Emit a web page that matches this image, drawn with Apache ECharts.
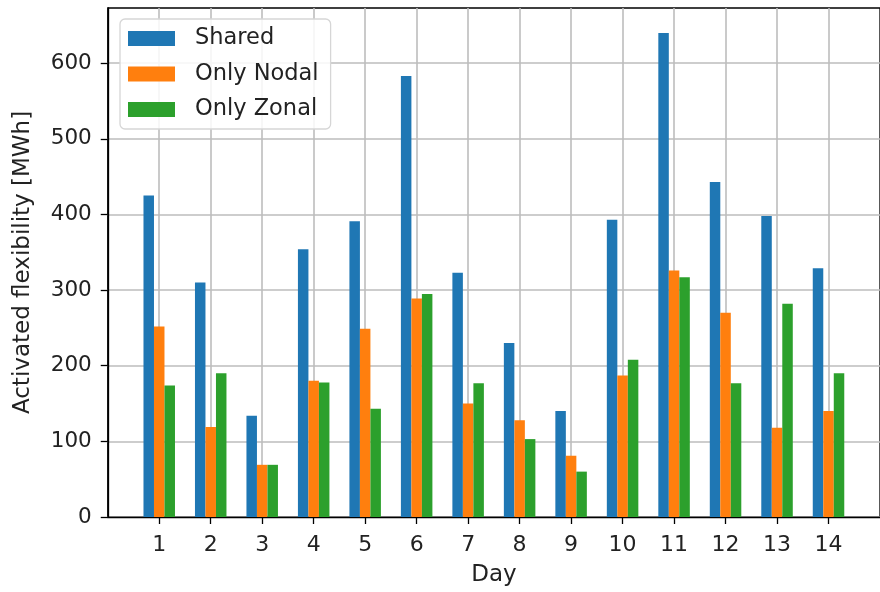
<!DOCTYPE html>
<html>
<head>
<meta charset="utf-8">
<script src="https://cdn.jsdelivr.net/npm/echarts@6/dist/echarts.min.js"></script>
<style>
html,body{margin:0;padding:0;background:#fff;}
#chart{width:880px;height:592px;}
</style>
</head>
<body>
<div id="chart"></div>
<script>
const days = [1, 2, 3, 4, 5, 6, 7, 8, 9, 10, 11, 12, 13, 14];
const shared = [425, 310, 134, 354, 391, 583, 323, 230, 140, 393, 640, 443, 398, 329];
const onlyNodal = [252, 119, 69, 180, 249, 289, 150, 128, 81, 187, 326, 270, 118, 140];
const onlyZonal = [174, 190, 69, 178, 143, 295, 177, 103, 60, 208, 317, 177, 282, 190];
const yTicks = [0, 100, 200, 300, 400, 500, 600];
const seriesNames = ['Shared', 'Only Nodal', 'Only Zonal'];
const colors = ['#1f77b4', '#ff7f0e', '#2ca02c'];

const font = 'DejaVu Sans';
const chart = echarts.init(document.getElementById('chart'), null, {renderer: 'canvas'});

function pairs(vals) { return days.map((d, i) => [d, vals[i]]); }

const option = {
  animation: false,
  backgroundColor: '#ffffff',
  color: colors,
  textStyle: {fontFamily: font},
  grid: {
    left: 107.75, right: -11.5, top: 8, bottom: 75,
    show: true, borderColor: '#000', borderWidth: 1.3, backgroundColor: 'transparent'
  },
  legend: {
    orient: 'vertical',
    left: 120, top: 19,
    padding: [8, 12, 8, 8],
    itemWidth: 47, itemHeight: 15, itemGap: 12.5,
    icon: 'rect',
    backgroundColor: 'rgba(255,255,255,0.85)',
    borderColor: '#d6d6d6', borderWidth: 1.3, borderRadius: 5,
    textStyle: {fontFamily: font, fontSize: 22.5, color: '#222', lineHeight: 22.5, padding: [0, 0, 0, 15]},
    data: seriesNames
  },
  xAxis: {
    type: 'value', min: 0, max: 15, interval: 1,
    name: 'Day', nameLocation: 'middle', nameGap: 47,
    nameTextStyle: {fontFamily: font, fontSize: 23, color: '#222'},
    axisLine: {show: true, onZero: false, lineStyle: {color: '#000', width: 1.3}},
    axisTick: {show: true, inside: false, length: 7, lineStyle: {color: '#000', width: 1.3}, customValues: days},
    axisLabel: {show: true, margin: 17, fontFamily: font, fontSize: 22, color: '#222', customValues: days},
    splitLine: {show: true, lineStyle: {color: '#bdbdbd', width: 1.6}}
  },
  yAxis: {
    type: 'value', min: 0, max: 673, interval: 100,
    name: 'Activated flexibility [MWh]', nameLocation: 'middle', nameGap: 73.5,
    nameTextStyle: {fontFamily: font, fontSize: 23, color: '#222'},
    axisLine: {show: true, lineStyle: {color: '#000', width: 1.3}},
    axisTick: {show: true, inside: false, length: 7, lineStyle: {color: '#000', width: 1.3}, customValues: yTicks},
    axisLabel: {show: true, margin: 16, fontFamily: font, fontSize: 21.5, color: '#222', customValues: yTicks},
    splitLine: {show: true, lineStyle: {color: '#bdbdbd', width: 1.6}}
  },
  series: [
    {name: seriesNames[0], type: 'bar', data: pairs(shared), barWidth: 10.5, barGap: '0%', itemStyle: {color: colors[0]}},
    {name: seriesNames[1], type: 'bar', data: pairs(onlyNodal), barWidth: 10.5, barGap: '0%', itemStyle: {color: colors[1]}},
    {name: seriesNames[2], type: 'bar', data: pairs(onlyZonal), barWidth: 10.5, barGap: '0%', itemStyle: {color: colors[2]}}
  ]
};
chart.setOption(option);
</script>
</body>
</html>
